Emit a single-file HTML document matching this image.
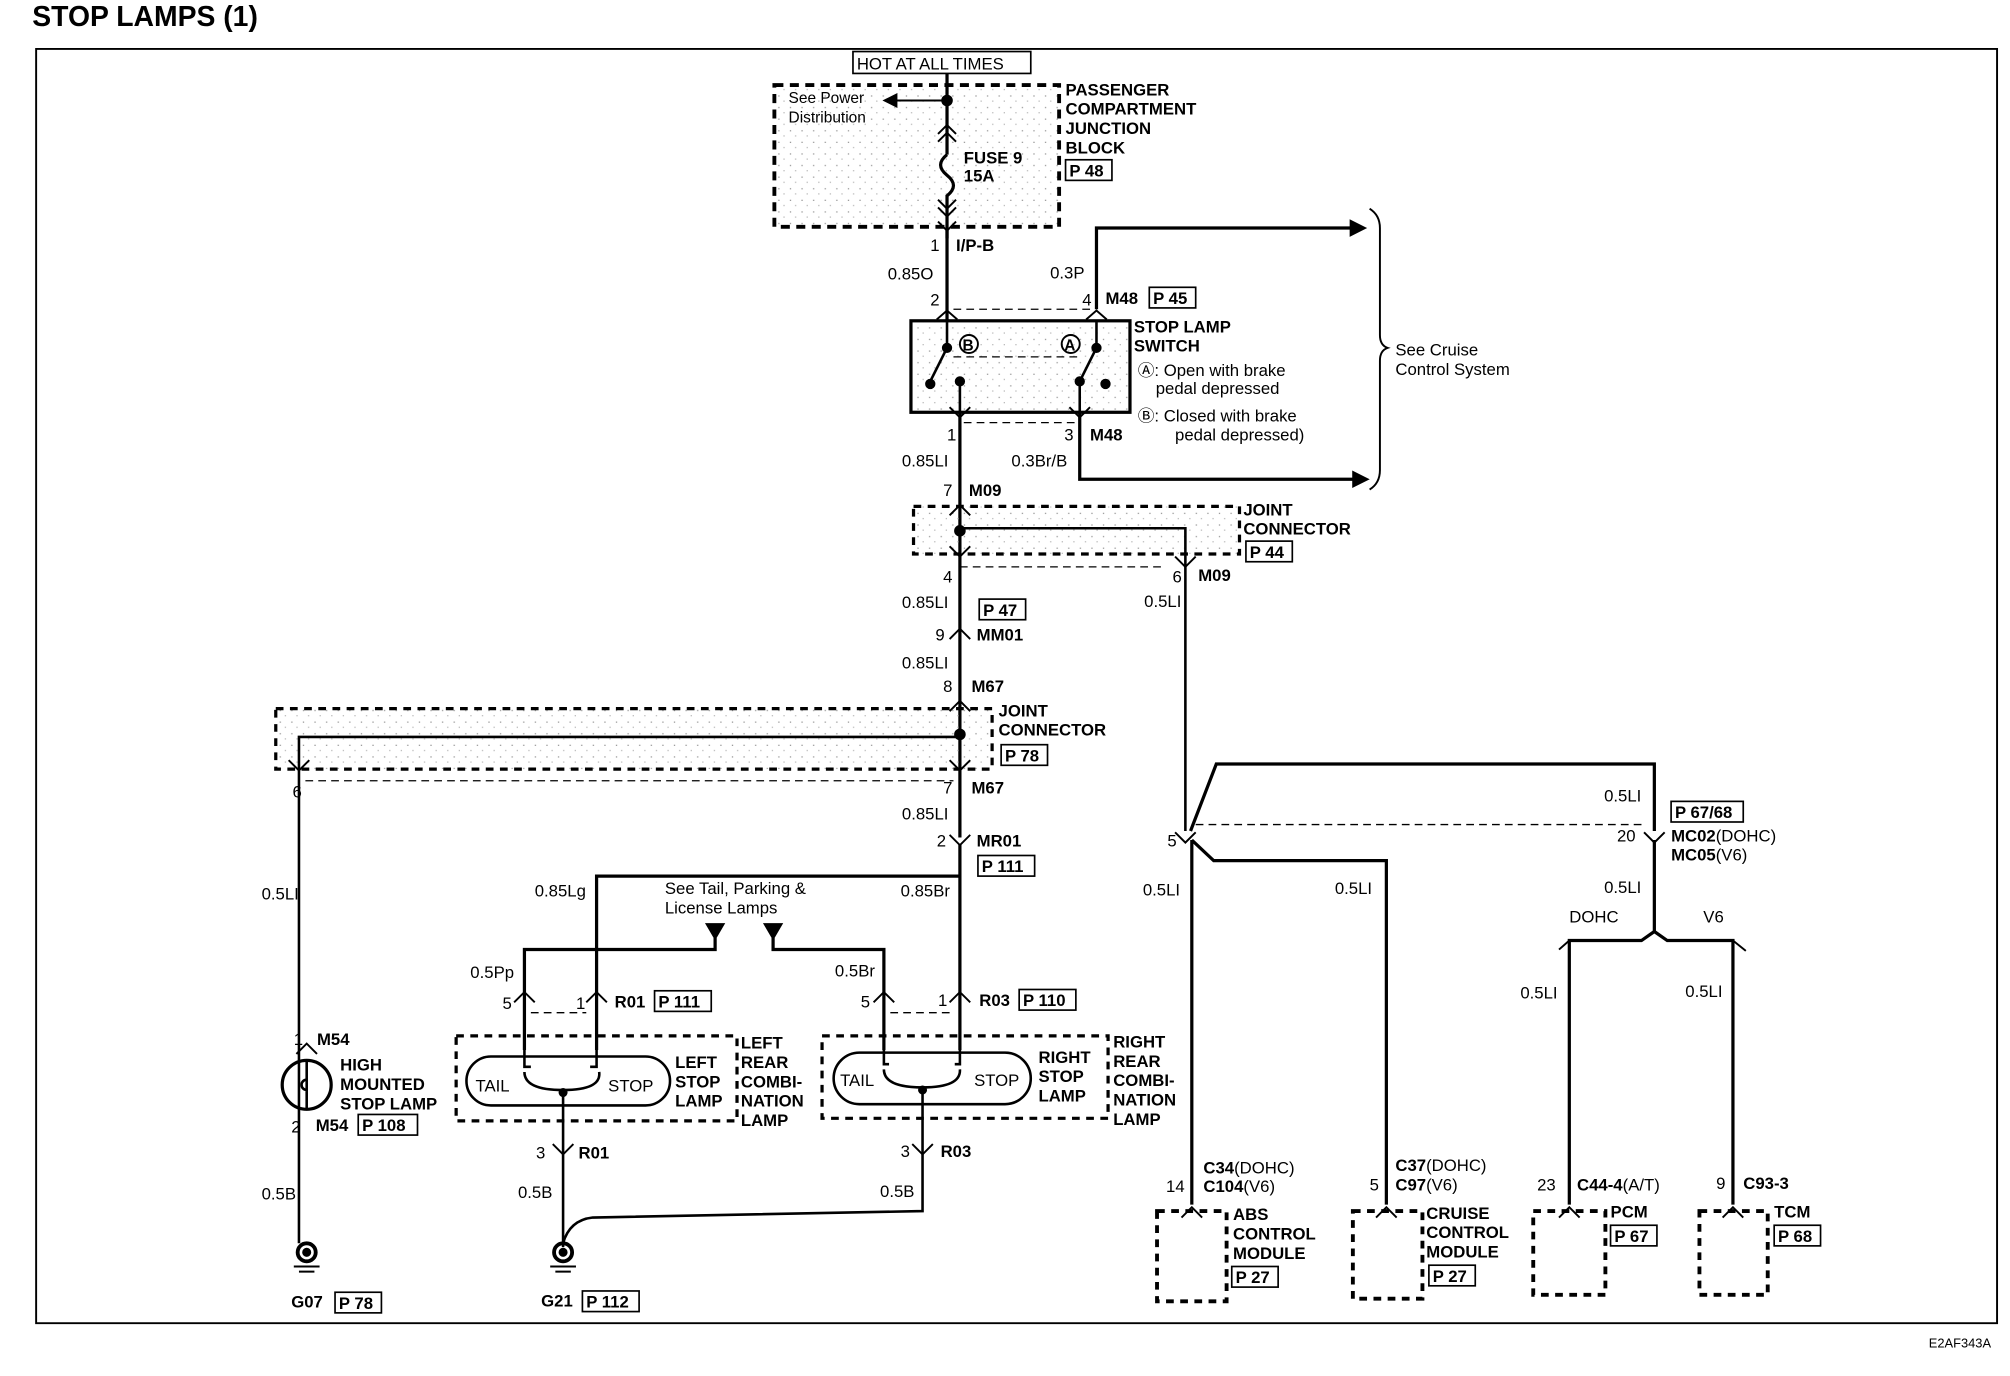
<!DOCTYPE html>
<html><head><meta charset="utf-8"><style>
html,body{margin:0;padding:0;background:#fff;}
svg{display:block;}
text{font-family:"Liberation Sans",Arial,sans-serif;font-size:13px;fill:#000;}
.b{font-weight:bold;}
</style></head><body>
<svg width="2010" height="1376" viewBox="0 0 1560 1068" xmlns="http://www.w3.org/2000/svg">
<defs>
<pattern id="dots" width="9" height="9" patternUnits="userSpaceOnUse">
<rect x="1" y="2" width="1" height="1" fill="#999"/><rect x="5" y="6" width="1" height="1" fill="#bbb"/>
</pattern>
</defs>
<g fill="none" stroke="#000">
<path d="M28 38 H1550 V1027 H28 Z" stroke-width="1.5"/>
<rect x="601" y="66" width="221" height="110" fill="url(#dots)" stroke-width="3" stroke-dasharray="7,5"/>
<rect x="662" y="40" width="138" height="17" stroke-width="1.3"/>
<path d="M735 57 V120 M735 120 q-10 8 0 16 q10 8 0 16 V185" stroke-width="2.5"/>
<path d="M735 78 H695" stroke-width="1.5"/>
<path d="M686 78 l10 -5 v10z" fill="#000"/>
<circle cx="735" cy="78" r="4" fill="#000"/>
<path d="M728 104 l7 -7 l7 7 M728 110 l7 -7 l7 7 M728 155 l7 7 l7 -7 M728 161 l7 7 l7 -7 M728 172 l7 7 l7 -7" stroke-width="1.5"/>
<path d="M735 177 V250" stroke-width="2.5"/>
<path d="M727 248 l8 -7 l8 7 M843 248 l8 -7 l8 7" stroke-width="1.5"/>
<path d="M740 240 H846" stroke-width="1" stroke-dasharray="6,4"/>
<path d="M851 240 V177 H1050" stroke-width="2.5"/>
<path d="M1060 177 l-12 -6 v12z" fill="#000"/>
<rect x="707" y="249" width="170" height="71" fill="url(#dots)" stroke-width="2.5"/>
<path d="M735 250 V270 L722 296 M745 320 V296 M851 250 V270 L838 296 M838 320 V296" stroke-width="2"/>
<path d="M740 277 H840" stroke-width="1" stroke-dasharray="6,4"/>
<circle cx="735" cy="270" r="3.5" fill="#000"/><circle cx="722" cy="298" r="3.5" fill="#000"/><circle cx="745" cy="296" r="3.5" fill="#000"/>
<circle cx="851" cy="270" r="3.5" fill="#000"/><circle cx="838" cy="296" r="3.5" fill="#000"/><circle cx="858" cy="298" r="3.5" fill="#000"/>
<circle cx="752" cy="267" r="7" stroke-width="1.5"/><circle cx="831" cy="267" r="7" stroke-width="1.5"/>
<path d="M737 316 l8 8 l8 -8 M830 316 l8 8 l8 -8" stroke-width="1.5"/>
<path d="M748 328 H835" stroke-width="1" stroke-dasharray="6,4"/>
<path d="M838 320 V372 H1052" stroke-width="2.5"/>
<path d="M1062 372 l-12 -6 v12z" fill="#000"/>
<path d="M1063 162 q8 5 8 15 V260 q0 8 6 10 q-6 2 -6 10 V365 q0 10 -8 15" stroke-width="1.5"/>
<path d="M745 320 V650" stroke-width="2.5"/>
<rect x="709" y="393" width="253" height="37" fill="url(#dots)" stroke-width="2.5" stroke-dasharray="6,5"/>
<path d="M737 400 l8 -8 l8 8 M737 424 l8 8 l8 -8 M912 432 l8 8 l8 -8 M737 496 l8 -8 l8 8 M737 552 l8 -8 l8 8" stroke-width="1.5"/>
<circle cx="745" cy="412" r="4" fill="#000"/>
<path d="M745 410 H920 V645" stroke-width="2"/>
<path d="M745 440 H905" stroke-width="1" stroke-dasharray="6,4"/>
<path d="M924 645 L944 593 H1284 V645" stroke-width="2.5"/>
<path d="M928 640 H1278" stroke-width="1" stroke-dasharray="6,4"/>
<path d="M912 646 l8 8 l8 -8 M1276 646 l8 8 l8 -8" stroke-width="1.5"/>
<path d="M925 652 V935 M925 652 L942 668 H1076 V935" stroke-width="2.5"/>
<path d="M1284 652 V723 L1274 730 H1218 V935 M1284 723 L1294 730 H1345 V935" stroke-width="2.5"/>
<path d="M1210 737 l8 -7 M1355 738 l-10 -8" stroke-width="1.5"/>
<path d="M917 945 l8 -8 l8 8 M1068 945 l8 -8 l8 8 M1210 945 l8 -8 l8 8 M1337 945 l8 -8 l8 8" stroke-width="1.5"/>
<g stroke-width="3" stroke-dasharray="6,5">
<rect x="898" y="940" width="54" height="70"/><rect x="1050" y="940" width="54" height="68"/>
<rect x="1190" y="940" width="56" height="65"/><rect x="1319" y="940" width="53" height="65"/>
</g>
<rect x="214" y="550" width="556" height="47" fill="url(#dots)" stroke-width="2.5" stroke-dasharray="6,5"/>
<circle cx="745" cy="570" r="4" fill="#000"/>
<path d="M745 572 H232 V965" stroke-width="2"/>
<path d="M224 590 l8 8 l8 -8 M737 590 l8 8 l8 -8 M737 648 l8 8 l8 -8" stroke-width="1.5"/>
<path d="M237 606 H740" stroke-width="1" stroke-dasharray="6,4"/>
<path d="M745 655 V815 M745 680 H463 V815" stroke-width="2.5"/>
<path d="M555 728 V737 H407 V815 M600 728 V737 H686 V815" stroke-width="2.5"/>
<path d="M548 717 h14 l-7 12z M593 717 h14 l-7 12z" fill="#000"/>
<path d="M399 778 l8 -8 l8 8 M455 778 l8 -8 l8 8 M678 778 l8 -8 l8 8 M737 778 l8 -8 l8 8" stroke-width="1.5"/>
<path d="M412 786 H455 M691 786 H738" stroke-width="1" stroke-dasharray="6,4"/>
<rect x="354" y="804" width="218" height="66" stroke-width="2.5" stroke-dasharray="6,5"/>
<rect x="362" y="820" width="158" height="38" rx="19" stroke-width="2"/>
<rect x="638" y="804" width="222" height="64" stroke-width="2.5" stroke-dasharray="6,5"/>
<rect x="647" y="817" width="153" height="40" rx="20" stroke-width="2"/>
<path d="M407 815 V828 H412 M463 815 V828 H458 M407 832 q0 14 30 14 q30 0 28 -14 M437 846 V968" stroke-width="2"/>
<path d="M686 815 V826 H690 M745 815 V826 H741 M686 830 q0 14 30 14 q30 0 29 -14 M716 844 V940 L460 945 q-18 2 -23 20" stroke-width="2"/>
<circle cx="437" cy="848" r="3" fill="#000"/><circle cx="716" cy="846" r="3" fill="#000"/>
<path d="M429 888 l8 8 l8 -8 M708 888 l8 8 l8 -8" stroke-width="1.5"/>
<circle cx="238" cy="842" r="19" stroke-width="2.5"/>
<path d="M238 823 V861 M238 838 a4 4 0 1 0 0 8" stroke-width="2"/>
<path d="M230 818 l8 -8 l8 8" stroke-width="1.5"/>
<circle cx="238" cy="972" r="7" stroke-width="3"/><circle cx="238" cy="972" r="3" fill="#000"/>
<path d="M228 983 h20 M232 987 h12" stroke-width="1.5"/>
<circle cx="437" cy="972" r="7" stroke-width="3"/><circle cx="437" cy="972" r="3" fill="#000"/>
<path d="M427 983 h20 M431 987 h12" stroke-width="1.5"/>
<g stroke-width="1.3">
<rect x="827" y="124" width="36" height="16"/><rect x="892" y="223" width="36" height="16"/>
<rect x="967" y="420" width="36" height="16"/><rect x="760" y="465" width="36" height="16"/>
<rect x="777" y="578" width="36" height="16"/><rect x="759" y="664" width="44" height="16"/>
<rect x="508" y="769" width="44" height="16"/><rect x="791" y="768" width="44" height="16"/>
<rect x="278" y="865" width="46" height="16"/><rect x="260" y="1003" width="36" height="16"/>
<rect x="452" y="1002" width="44" height="16"/><rect x="1297" y="622" width="56" height="16"/>
<rect x="956" y="983" width="36" height="16"/><rect x="1109" y="982" width="36" height="16"/>
<rect x="1250" y="951" width="36" height="16"/><rect x="1377" y="951" width="36" height="16"/>
</g>
</g>
<text x="747" y="272" class="b" style="font-size:12px">B</text><text x="826" y="272" class="b" style="font-size:12px">A</text>
<text x="25" y="20" class="b" style="font-size:22px">STOP LAMPS (1)</text>
<text x="665" y="54">HOT AT ALL TIMES</text>
<text x="612" y="80" style="font-size:12px">See Power</text>
<text x="612" y="95" style="font-size:12px">Distribution</text>
<text x="748" y="127" class="b">FUSE 9</text><text x="748" y="141" class="b">15A</text>
<g class="b"><text x="827" y="74">PASSENGER</text><text x="827" y="89">COMPARTMENT</text><text x="827" y="104">JUNCTION</text><text x="827" y="119">BLOCK</text></g>
<g class="b"><text x="830" y="137">P 48</text><text x="895" y="236">P 45</text><text x="970" y="433">P 44</text><text x="763" y="478">P 47</text><text x="780" y="591">P 78</text><text x="762" y="677">P 111</text><text x="511" y="782">P 111</text><text x="794" y="781">P 110</text><text x="281" y="878">P 108</text><text x="263" y="1016">P 78</text><text x="455" y="1015">P 112</text><text x="1300" y="635">P 67/68</text><text x="959" y="996">P 27</text><text x="1112" y="995">P 27</text><text x="1253" y="964">P 67</text><text x="1380" y="964">P 68</text></g>
<text x="722" y="195">1</text><text x="742" y="195" class="b">I/P-B</text>
<text x="689" y="217">0.85O</text><text x="722" y="237">2</text>
<text x="815" y="216">0.3P</text><text x="840" y="237">4</text><text x="858" y="236" class="b">M48</text>
<g class="b"><text x="880" y="258">STOP LAMP</text><text x="880" y="273">SWITCH</text></g>
<text x="883" y="292">Ⓐ: Open with brake</text><text x="897" y="306">pedal depressed</text>
<text x="883" y="327">Ⓑ: Closed with  brake</text><text x="912" y="342">pedal depressed)</text>
<text x="1083" y="276">See Cruise</text><text x="1083" y="291">Control System</text>
<text x="735" y="342">1</text><text x="826" y="342">3</text><text x="846" y="342" class="b">M48</text>
<text x="700" y="362">0.85LI</text><text x="785" y="362">0.3Br/B</text>
<text x="732" y="385">7</text><text x="752" y="385" class="b">M09</text>
<g class="b"><text x="965" y="400">JOINT</text><text x="965" y="415">CONNECTOR</text></g>
<text x="732" y="452">4</text><text x="910" y="452">6</text><text x="930" y="451" class="b">M09</text>
<text x="700" y="472">0.85LI</text><text x="888" y="471">0.5LI</text>
<text x="726" y="497">9</text><text x="758" y="497" class="b">MM01</text>
<text x="700" y="519">0.85LI</text>
<text x="732" y="537">8</text><text x="754" y="537" class="b">M67</text>
<g class="b"><text x="775" y="556">JOINT</text><text x="775" y="571">CONNECTOR</text></g>
<text x="227" y="619">6</text><text x="732" y="616">7</text><text x="754" y="616" class="b">M67</text>
<text x="700" y="636">0.85LI</text>
<text x="727" y="657">2</text><text x="758" y="657" class="b">MR01</text>
<text x="1245" y="622">0.5LI</text>
<text x="906" y="657">5</text><text x="1255" y="653">20</text>
<text x="1297" y="653" class="b">MC02<tspan font-weight="normal">(DOHC)</tspan></text>
<text x="1297" y="668" class="b">MC05<tspan font-weight="normal">(V6)</tspan></text>
<text x="1245" y="693">0.5LI</text><text x="887" y="695">0.5LI</text><text x="1036" y="694">0.5LI</text>
<text x="1218" y="716">DOHC</text><text x="1322" y="716">V6</text>
<text x="1180" y="775">0.5LI</text><text x="1308" y="774">0.5LI</text>
<text x="203" y="698">0.5LI</text><text x="415" y="696">0.85Lg</text><text x="699" y="696">0.85Br</text>
<text x="516" y="694">See Tail, Parking &amp;</text><text x="516" y="709">License Lamps</text>
<text x="365" y="759">0.5Pp</text><text x="648" y="758">0.5Br</text>
<text x="390" y="783">5</text><text x="447" y="783">1</text><text x="477" y="782" class="b">R01</text>
<text x="668" y="782">5</text><text x="728" y="781">1</text><text x="760" y="781" class="b">R03</text>
<text x="228" y="811">1</text><text x="246" y="811" class="b">M54</text>
<g class="b"><text x="264" y="831">HIGH</text><text x="264" y="846">MOUNTED</text><text x="264" y="861">STOP LAMP</text></g>
<text x="226" y="879">2</text><text x="245" y="878" class="b">M54</text>
<text x="369" y="847">TAIL</text><text x="472" y="847">STOP</text>
<text x="652" y="843">TAIL</text><text x="756" y="843">STOP</text>
<g class="b"><text x="524" y="829">LEFT</text><text x="524" y="844">STOP</text><text x="524" y="859">LAMP</text>
<text x="575" y="814">LEFT</text><text x="575" y="829">REAR</text><text x="575" y="844">COMBI-</text><text x="575" y="859">NATION</text><text x="575" y="874">LAMP</text>
<text x="806" y="825">RIGHT</text><text x="806" y="840">STOP</text><text x="806" y="855">LAMP</text>
<text x="864" y="813">RIGHT</text><text x="864" y="828">REAR</text><text x="864" y="843">COMBI-</text><text x="864" y="858">NATION</text><text x="864" y="873">LAMP</text></g>
<text x="416" y="899">3</text><text x="449" y="899" class="b">R01</text>
<text x="699" y="898">3</text><text x="730" y="898" class="b">R03</text>
<text x="203" y="931">0.5B</text><text x="402" y="930">0.5B</text><text x="683" y="929">0.5B</text>
<text x="226" y="1015" class="b">G07</text><text x="420" y="1014" class="b">G21</text>
<text x="934" y="911" class="b">C34<tspan font-weight="normal">(DOHC)</tspan></text><text x="934" y="925" class="b">C104<tspan font-weight="normal">(V6)</tspan></text>
<text x="905" y="925">14</text>
<text x="1083" y="909" class="b">C37<tspan font-weight="normal">(DOHC)</tspan></text><text x="1083" y="924" class="b">C97<tspan font-weight="normal">(V6)</tspan></text>
<text x="1063" y="924">5</text>
<text x="1193" y="924">23</text><text x="1224" y="924" class="b">C44-4<tspan font-weight="normal">(A/T)</tspan></text>
<text x="1332" y="923">9</text><text x="1353" y="923" class="b">C93-3</text>
<g class="b"><text x="957" y="947">ABS</text><text x="957" y="962">CONTROL</text><text x="957" y="977">MODULE</text>
<text x="1107" y="946">CRUISE</text><text x="1107" y="961">CONTROL</text><text x="1107" y="976">MODULE</text>
<text x="1250" y="945">PCM</text><text x="1377" y="945">TCM</text></g>
<text x="1497" y="1046" style="font-size:10px">E2AF343A</text>
</svg>
</body></html>
